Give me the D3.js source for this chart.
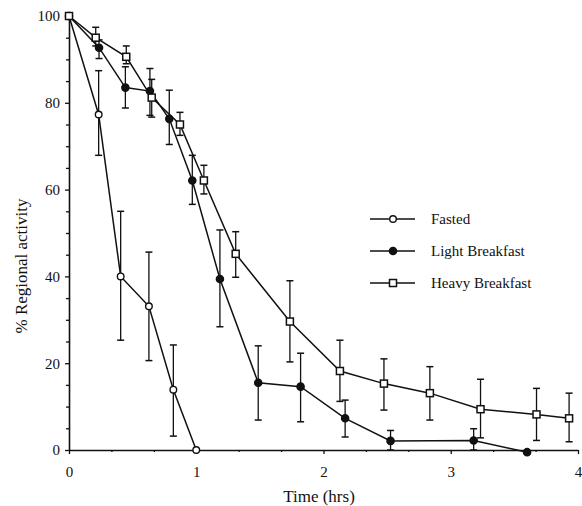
<!DOCTYPE html>
<html><head><meta charset="utf-8">
<script src="https://cdn.jsdelivr.net/npm/d3@7"></script>
<style>body{margin:0;background:#fff}svg{display:block}</style>
</head><body><div id="c"></div>
<script>
const seriesNames = ["Fasted", "Light Breakfast", "Heavy Breakfast"];
const xTickLabels = [0, 1, 2, 3, 4];
const yTickLabels = [0, 20, 40, 60, 80, 100];

// [time (hrs), % activity, error low, error high]
const fasted = [
  [0, 100, null, null],
  [0.233, 77.3, 67.9, 87.4],
  [0.406, 40, 25.3, 55],
  [0.628, 33.1, 20.6, 45.6],
  [0.82, 13.9, 3.2, 24.2],
  [1.0, 0, null, null]
];
const light = [
  [0, 100, null, null],
  [0.236, 92.7, 90.2, 94.5],
  [0.443, 83.5, 78.8, 88.3],
  [0.636, 82.7, 77.1, 87.9],
  [0.788, 76.3, 70.4, 82.9],
  [0.969, 62.1, 56.6, 67.9],
  [1.186, 39.4, 28.4, 50.7],
  [1.487, 15.5, 6.9, 24],
  [1.82, 14.6, 6.5, 22.3],
  [2.17, 7.3, 3.0, 11.5],
  [2.527, 2.1, 0, 4.5],
  [3.18, 2.2, 0, 4.9],
  [3.6, -0.5, null, null]
];
const heavy = [
  [0, 100, null, null],
  [0.21, 95, 93.1, 97.4],
  [0.45, 90.6, 89, 93.1],
  [0.65, 81.2, 76.7, 85.4],
  [0.872, 75, 72.5, 77.8],
  [1.06, 62.1, 59, 65.6],
  [1.31, 45.2, 39.8, 50.3],
  [1.736, 29.6, 20.3, 39],
  [2.129, 18.2, 11.2, 25.3],
  [2.475, 15.3, 9.2, 21],
  [2.836, 13.1, 6.9, 19.2],
  [3.234, 9.4, 2.8, 16.3],
  [3.674, 8.2, 2.2, 14.2],
  [3.93, 7.3, 1.9, 13.1]
];

const FONT = "'Liberation Serif', 'DejaVu Serif', 'Times New Roman', serif";
const W = 582, H = 506;
const svg = d3.select("#c").append("svg").attr("width", W).attr("height", H);
const x = d3.scaleLinear().domain([0, 4]).range([69, 578]);
const y = d3.scaleLinear().domain([0, 100]).range([450, 16]);

const xMinor = d3.range(1, 12).map(i => i / 3).filter(v => Math.abs(v - Math.round(v)) > 1e-6);
const yMinor = d3.range(5, 100, 5).filter(v => v % 20 !== 0);

const gx = svg.append("g").attr("transform", `translate(0,${y(0)})`);
gx.call(d3.axisBottom(x).tickValues(xTickLabels).tickFormat(d3.format("d")).tickSizeInner(4).tickSizeOuter(0).tickPadding(12));
gx.append("g").call(d3.axisBottom(x).tickValues(xMinor).tickFormat("").tickSizeInner(2).tickSizeOuter(0)).select(".domain").remove();

const gy = svg.append("g").attr("transform", `translate(${x(0)},0)`);
gy.call(d3.axisLeft(y).tickValues(yTickLabels).tickFormat(d3.format("d")).tickSizeInner(4).tickSizeOuter(0).tickPadding(5));
gy.append("g").call(d3.axisLeft(y).tickValues(yMinor).tickFormat("").tickSizeInner(3).tickSizeOuter(0)).select(".domain").remove();

svg.selectAll("g").attr("font-family", FONT);
svg.selectAll(".domain").attr("stroke", "#111").attr("stroke-width", 1.6);
svg.selectAll(".tick line").attr("stroke", "#111").attr("stroke-width", 1.3);
svg.selectAll(".tick text").attr("font-family", FONT).attr("font-size", 15).attr("fill", "#111");

svg.append("text").attr("x", 319).attr("y", 502).attr("text-anchor", "middle")
  .attr("font-family", FONT).attr("font-size", 17).attr("fill", "#111").text("Time (hrs)");
svg.append("text").attr("transform", "translate(27,266) rotate(-90)").attr("text-anchor", "middle")
  .attr("font-family", FONT).attr("font-size", 17).attr("fill", "#111").text("% Regional activity");

const line = d3.line().x(d => x(d[0])).y(d => y(d[1]));
const datasets = [fasted, light, heavy];
const markers = ["open", "filled", "square"];

function drawMarker(g, type, cx, cy) {
  if (type === "square") {
    g.append("rect").attr("x", cx - 3.5).attr("y", cy - 3.5).attr("width", 7).attr("height", 7)
      .attr("fill", "#fff").attr("stroke", "#111").attr("stroke-width", 1.5);
  } else {
    g.append("circle").attr("cx", cx).attr("cy", cy).attr("r", type === "filled" ? 3.6 : 3.3)
      .attr("fill", type === "filled" ? "#111" : "#fff").attr("stroke", "#111").attr("stroke-width", 1.4);
  }
}

datasets.forEach((data, si) => {
  const g = svg.append("g");
  data.filter(d => d[2] !== null).forEach(d => {
    const px = x(d[0]);
    g.append("line").attr("x1", px).attr("x2", px).attr("y1", y(d[2])).attr("y2", y(d[3])).attr("stroke", "#111").attr("stroke-width", 1.3);
    [d[2], d[3]].forEach(v => {
      g.append("line").attr("x1", px - 3.5).attr("x2", px + 3.5).attr("y1", y(v)).attr("y2", y(v)).attr("stroke", "#111").attr("stroke-width", 1.5);
    });
  });
  g.append("path").attr("d", line(data)).attr("fill", "none").attr("stroke", "#111").attr("stroke-width", 1.5);
  data.forEach(d => drawMarker(g, markers[si], x(d[0]), y(d[1])));
});

const lg = svg.append("g");
seriesNames.forEach((name, i) => {
  const ly = 219 + i * 32;
  lg.append("line").attr("x1", 370).attr("x2", 415).attr("y1", ly).attr("y2", ly).attr("stroke", "#111").attr("stroke-width", 1.5);
  drawMarker(lg, markers[i], 393, ly);
  lg.append("text").attr("x", 431).attr("y", ly + 5).attr("font-family", FONT).attr("font-size", 15).attr("fill", "#111").text(name);
});
</script></body></html>
